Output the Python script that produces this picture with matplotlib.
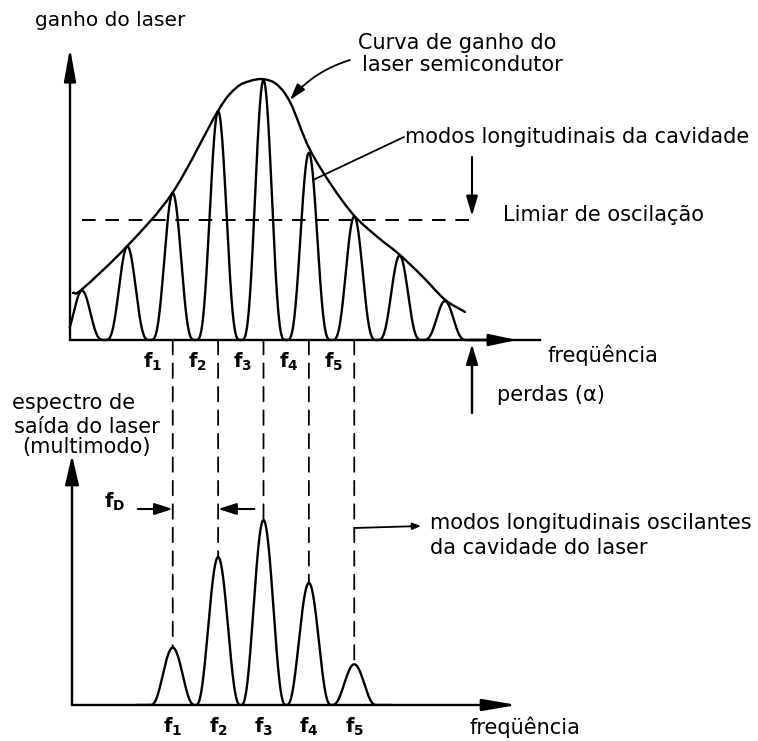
import numpy as np
import matplotlib
matplotlib.use('Agg')
import matplotlib.pyplot as plt
from matplotlib.patches import ConnectionPatch, PathPatch
from matplotlib.path import Path

# longitudinal modes of the cavity (frequency in units of mode spacing)
mode_freq = np.array([1, 2, 3, 4, 5, 6, 7, 8, 9])
mode_gain = np.array([0.19, 0.36, 0.565, 0.88, 1.00, 0.72, 0.475, 0.325, 0.15])

# gain curve of the semiconductor laser
curve_freq = np.array([0.80, 1.00, 2.00, 3.00, 4.00, 4.40, 4.70, 5.00, 5.30, 5.60,
                       6.00, 6.50, 7.00, 7.50, 8.00, 8.50, 9.00, 9.44])
curve_gain = np.array([0.181, 0.195, 0.362, 0.568, 0.882, 0.970, 0.996, 1.003, 0.982, 0.910,
                       0.740, 0.595, 0.478, 0.398, 0.328, 0.245, 0.155, 0.108])

threshold = 0.46

# output spectrum: the modes above threshold
out_freq = np.array([3, 4, 5, 6, 7])
out_power = np.array([0.31, 0.80, 1.00, 0.66, 0.22])
out_labels = ['1', '2', '3', '4', '5']

W, H = 758, 741
STEP = 45.375   # pixels per mode spacing
X0 = 82         # pixel column of mode 1


def f_at(px):
    return 1 + (px - X0) / STEP


def P(x, y):
    return (x, H - y)


def line_shape(x, centers, heights, n, half=0.5):
    # each mode line falls smoothly to zero halfway to its neighbours
    y = np.zeros_like(x)
    for c, h in zip(centers, heights):
        u = (x - c) / half
        y += h * np.where(np.abs(u) < 1, (1 - u ** 2) ** n, 0.0)
    return y


def smooth_path(x, y):
    # Catmull-Rom spline through the points, as cubic Bezier segments
    pts = np.column_stack([x, y])
    ext = np.vstack([2 * pts[0] - pts[1], pts, 2 * pts[-1] - pts[-2]])
    verts, codes = [pts[0]], [Path.MOVETO]
    for i in range(1, len(ext) - 2):
        p0, p1, p2, p3 = ext[i - 1], ext[i], ext[i + 1], ext[i + 2]
        verts += [p1 + (p2 - p0) / 6, p2 - (p3 - p1) / 6, p2]
        codes += [Path.CURVE4] * 3
    return Path(verts, codes)


plt.rcParams['font.family'] = ['DejaVu Sans']
fig = plt.figure(figsize=(W / 100, H / 100), dpi=100)
fig.patch.set_facecolor('white')


def px_axes(left, top, right, bottom):
    return fig.add_axes([left / W, 1 - bottom / H, (right - left) / W, (bottom - top) / H])


FS = 15
LW = 1.7
K = 'black'


def ptext(x, y, s, **kw):
    kw.setdefault('fontsize', FS)
    fig.text(x / W, 1 - y / H, s, ha=kw.pop('ha', 'left'), va=kw.pop('va', 'center'), **kw)


def arrow(ax, xy, xytext, coords, tcoords=None, hl=1.6, hw=0.4, rad=0.0, style='-|>', lw=LW):
    if style == '-':
        st = '-'
    else:
        st = f'{style},head_length={hl},head_width={hw}'
    ax.annotate('', xy=xy, xytext=xytext, xycoords=coords, textcoords=tcoords or coords,
                arrowprops=dict(arrowstyle=st, connectionstyle=f'arc3,rad={rad}', lw=lw,
                                color=K, shrinkA=0, shrinkB=0),
                annotation_clip=False)


# ---------- upper panel: gain ----------
ax1 = px_axes(70, 48, 540, 340)
ax1.set_xlim(f_at(70), f_at(540))
ax1.set_ylim(0, (340 - 48) / 260)
ax1.axis('off')

xx = np.linspace(f_at(70), 10.0, 2000)
ax1.plot(xx, line_shape(xx, mode_freq, mode_gain, 4), color=K, lw=LW, clip_on=False)
ax1.add_patch(PathPatch(smooth_path(curve_freq, curve_gain), fill=False, ec=K, lw=LW,
                        capstyle='round', clip_on=False))
ax1.hlines(threshold, 1.0, f_at(478), colors=K, lw=1.4, linestyles=(0, (7, 5)))

# axes with arrowheads
ax1.plot([0, 1], [0, 0], color=K, lw=LW, transform=ax1.transAxes, clip_on=False)
arrow(ax1, (0.951, 0), (0.85, 0), 'axes fraction', hl=1.7, hw=0.36)
arrow(ax1, (0, 1), (0, 0), 'axes fraction', hl=2.0, hw=0.36)

# mode labels between the dashed lines
for f, lab in zip(out_freq, out_labels):
    ax1.text(f - 0.45, -0.085, r'$\mathregular{f_%s}$' % lab, fontsize=14,
             fontweight='bold', ha='center', va='center', clip_on=False)

# ---------- lower panel: output spectrum ----------
ax2 = px_axes(72, 455, 517, 705)
ax2.set_xlim(f_at(72), f_at(517))
ax2.set_ylim(0, 250 / 185)
ax2.axis('off')

xx2 = np.linspace(2.2, 7.8, 1500)
ax2.plot(xx2, line_shape(xx2, out_freq, out_power, 3), color=K, lw=LW)
arrow(ax2, (1, 0), (0, 0), 'axes fraction', hl=2.1, hw=0.36)
arrow(ax2, (0, 1), (0, 0), 'axes fraction', hl=1.8, hw=0.42)

for f, lab in zip(out_freq, out_labels):
    ax2.text(f, -0.119, r'$\mathregular{f_%s}$' % lab, fontsize=14,
             fontweight='bold', ha='center', va='center', clip_on=False)

# dashed lines linking each oscillating mode to its output line
for f, p in zip(out_freq, out_power):
    con = ConnectionPatch(xyA=(f, 0), coordsA=ax1.transData, xyB=(f, p), coordsB=ax2.transData,
                          color=K, lw=1.3, linestyle=(0, (8, 5)))
    fig.add_artist(con)

# mode spacing arrows
yd = (705 - 509) / 185
arrow(ax2, (out_freq[0], yd), (out_freq[0] - 0.77, yd), 'data', hl=1.1, hw=0.35, lw=1.5)
arrow(ax2, (out_freq[1], yd), (out_freq[1] + 0.8, yd), 'data', hl=1.1, hw=0.35, lw=1.5)
ptext(104, 502, r'$\mathregular{f_D}$', fontsize=14, fontweight='bold')

# ---------- annotations ----------
ptext(35, 20, 'ganho do laser', fontsize=14.5)
ptext(358, 43, 'Curva de ganho do')
ptext(362, 65, 'laser semicondutor')
arrow(ax1, (f_at(290), (340 - 100) / 260), P(350, 60), 'data', 'figure pixels',
      hl=1.0, hw=0.3, rad=0.15, lw=1.3)
arrow(ax1, (f_at(313), (340 - 180) / 260), P(404, 137), 'data', 'figure pixels',
      style='-', lw=1.3)
ptext(405, 137, 'modos longitudinais da cavidade')

arrow(ax1, P(472, 216), P(472, 157), 'figure pixels', hl=1.2, hw=0.35, lw=1.5)
ptext(503, 215, 'Limiar de oscilação')

ptext(547, 355, 'freqüência')
arrow(ax1, P(472, 344), P(472, 413), 'figure pixels', hl=1.2, hw=0.35, lw=1.7)
ptext(497, 395, 'perdas (α)')

ptext(12, 403, 'espectro de')
ptext(14, 427, 'saída do laser')
ptext(22, 447, '(multimodo)')

arrow(ax2, P(421, 526), (out_freq[-1], (705 - 528) / 185), 'figure pixels', 'data',
      hl=0.5, hw=0.2, lw=1.3)
ptext(430, 523, 'modos longitudinais oscilantes')
ptext(430, 548, 'da cavidade do laser')

ptext(470, 727, 'freqüência')

fig.savefig('out.png', dpi=100, facecolor='white')
